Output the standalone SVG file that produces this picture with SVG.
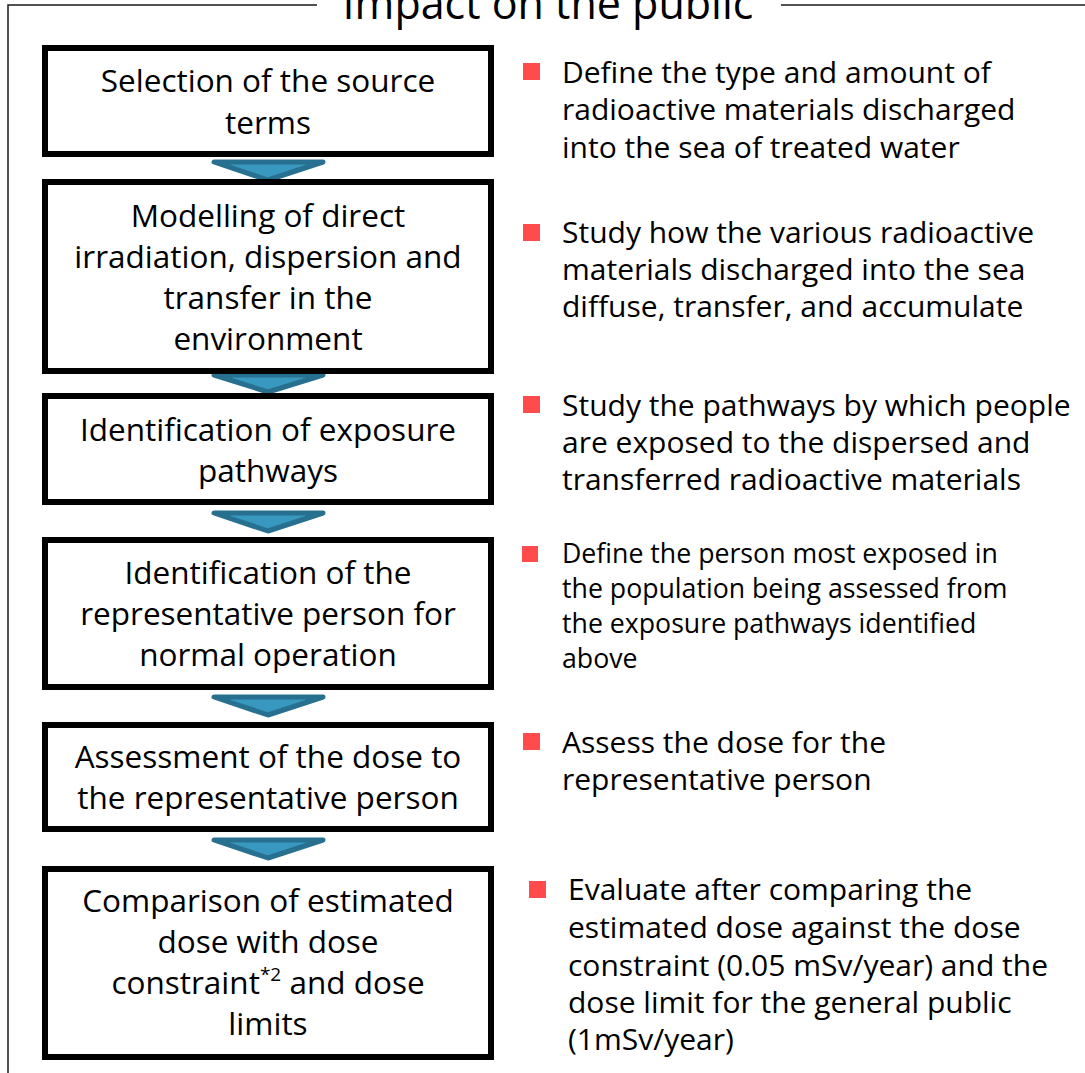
<svg xmlns="http://www.w3.org/2000/svg" width="1085" height="1073" viewBox="0 0 1085 1073">
<style>
.frame{fill:none;stroke:#1a1a1a;stroke-width:1.5}
.box{fill:#fff;stroke:#000;stroke-width:6}
.bt{font-family:"Open Sans","Noto Sans",sans-serif;font-size:31.5px;fill:#000;text-anchor:middle}
.rt{font-family:"Open Sans","Noto Sans",sans-serif;font-size:30px;fill:#000}
.rs{font-size:26.7px}
.sq{fill:#ff4b4b}
.arr{fill:#3898c0;stroke:#28708f;stroke-width:5;stroke-linejoin:round}
.title{font-family:"Open Sans","Noto Sans",sans-serif;font-size:43px;fill:#000;text-anchor:middle}
</style>
<rect width="1085" height="1073" fill="#fff"/>
<g id="frame">
<polyline class="frame" points="317,5 8,5 8,1073"/>
<line class="frame" x1="781" y1="5" x2="1085" y2="5"/>
<text class="title" x="548" y="19">Impact on the public</text>
</g>
<g id="connectors">
<polygon class="arr" points="214,162 323,162 268,180"/>
<polygon class="arr" points="214,375 323,375 268,392"/>
<polygon class="arr" points="214,513 323,513 268,531"/>
<polygon class="arr" points="214,697 323,697 268,715"/>
<polygon class="arr" points="214,840 323,840 268,858"/>
</g>
<g id="n1">
<rect class="box" x="45" y="48" width="446" height="106"/>
<text class="bt" x="268" y="92">Selection of the source</text>
<text class="bt" x="268" y="134">terms</text>
</g>
<g id="n2">
<rect class="box" x="45" y="182" width="446" height="189"/>
<text class="bt" x="268" y="227">Modelling of direct</text>
<text class="bt" x="268" y="268">irradiation, dispersion and</text>
<text class="bt" x="268" y="309">transfer in the</text>
<text class="bt" x="268" y="350">environment</text>
</g>
<g id="n3">
<rect class="box" x="45" y="396" width="446" height="106"/>
<text class="bt" x="268" y="441">Identification of exposure</text>
<text class="bt" x="268" y="482">pathways</text>
</g>
<g id="n4">
<rect class="box" x="45" y="540" width="446" height="147"/>
<text class="bt" x="268" y="584">Identification of the</text>
<text class="bt" x="268" y="625">representative person for</text>
<text class="bt" x="268" y="666">normal operation</text>
</g>
<g id="n5">
<rect class="box" x="45" y="725" width="446" height="104"/>
<text class="bt" x="268" y="768">Assessment of the dose to</text>
<text class="bt" x="268" y="809">the representative person</text>
</g>
<g id="n6">
<rect class="box" x="45" y="869" width="446" height="188"/>
<text class="bt" x="268" y="912">Comparison of estimated</text>
<text class="bt" x="268" y="953">dose with dose</text>
<text class="bt" x="268" y="994">constraint<tspan font-size="19" dy="-13">*2</tspan><tspan dy="13"> and dose</tspan></text>
<text class="bt" x="268" y="1035">limits</text>
</g>
<g id="d1">
<rect class="sq" x="523" y="63" width="17" height="17"/>
<text class="rt" x="562" y="83">Define the type and amount of</text>
<text class="rt" x="562" y="120">radioactive materials discharged</text>
<text class="rt" x="562" y="158">into the sea of treated water</text>
</g>
<g id="d2">
<rect class="sq" x="523" y="224" width="17" height="17"/>
<text class="rt" x="562" y="243">Study how the various radioactive</text>
<text class="rt" x="562" y="280">materials discharged into the sea</text>
<text class="rt" x="562" y="317">diffuse, transfer, and accumulate</text>
</g>
<g id="d3">
<rect class="sq" x="523" y="396" width="17" height="17"/>
<text class="rt" x="562" y="416">Study the pathways by which people</text>
<text class="rt" x="562" y="453">are exposed to the dispersed and</text>
<text class="rt" x="562" y="490">transferred radioactive materials</text>
</g>
<g id="d4">
<rect class="sq" x="522" y="546" width="16" height="16"/>
<text class="rt rs" x="562" y="563">Define the person most exposed in</text>
<text class="rt rs" x="562" y="598">the population being assessed from</text>
<text class="rt rs" x="562" y="633">the exposure pathways identified</text>
<text class="rt rs" x="562" y="668">above</text>
</g>
<g id="d5">
<rect class="sq" x="523" y="733" width="17" height="17"/>
<text class="rt" x="562" y="753">Assess the dose for the</text>
<text class="rt" x="562" y="790">representative person</text>
</g>
<g id="d6">
<rect class="sq" x="529" y="881" width="17" height="17"/>
<text class="rt" x="568" y="900">Evaluate after comparing the</text>
<text class="rt" x="568" y="938">estimated dose against the dose</text>
<text class="rt" x="568" y="976">constraint (0.05 mSv/year) and the</text>
<text class="rt" x="568" y="1013">dose limit for the general public</text>
<text class="rt" x="568" y="1050">(1mSv/year)</text>
</g>
</svg>
